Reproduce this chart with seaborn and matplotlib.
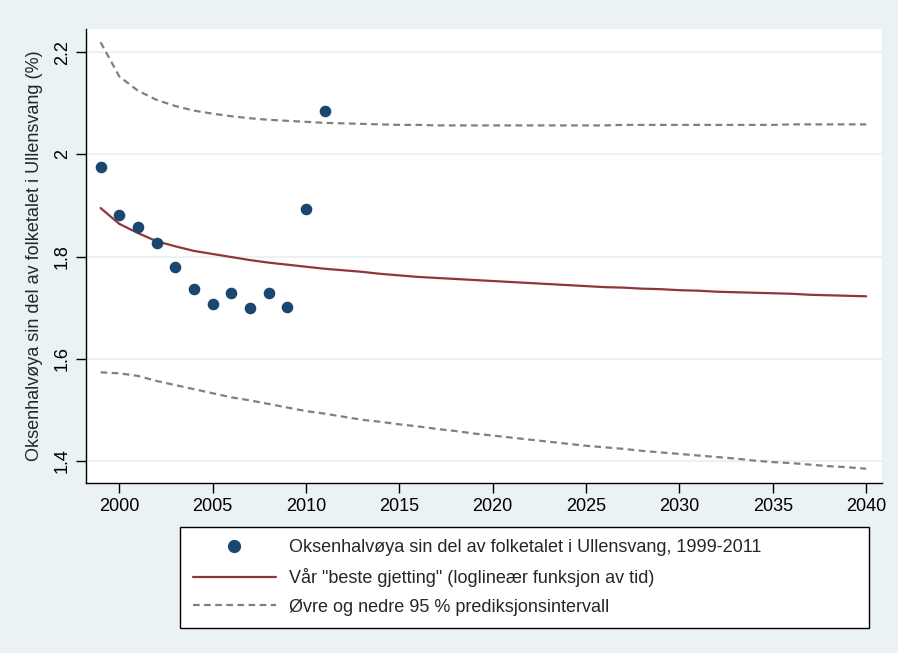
import numpy as np
import pandas as pd
import matplotlib
matplotlib.use("Agg")
import matplotlib.pyplot as plt
import seaborn as sns

# observed share, 1999-2011
obs_years = list(range(1999, 2012))
obs_share = [1.975, 1.881, 1.858, 1.827, 1.780, 1.737, 1.707,
             1.729, 1.699, 1.728, 1.702, 1.894, 2.086]

# fitted line and prediction interval, 1999-2040
fit_years = list(range(1999, 2041))
fit_share = [1.895, 1.864, 1.846, 1.830, 1.820, 1.811, 1.805, 1.799, 1.793, 1.788,
             1.784, 1.780, 1.776, 1.773, 1.770, 1.766, 1.763, 1.760, 1.758, 1.756,
             1.754, 1.752, 1.750, 1.748, 1.746, 1.744, 1.742, 1.740, 1.739, 1.737,
             1.736, 1.734, 1.733, 1.731, 1.730, 1.729, 1.728, 1.727, 1.725, 1.724,
             1.723, 1.722]
upper = [2.220, 2.153, 2.125, 2.107, 2.095, 2.086, 2.080, 2.075, 2.071, 2.068,
         2.066, 2.064, 2.062, 2.061, 2.060, 2.059, 2.058, 2.058, 2.057, 2.057,
         2.057, 2.057, 2.057, 2.057, 2.057, 2.057, 2.057, 2.057, 2.058, 2.058,
         2.058, 2.058, 2.058, 2.058, 2.058, 2.058, 2.058, 2.059, 2.059, 2.059,
         2.059, 2.059]
lower = [1.573, 1.571, 1.566, 1.556, 1.548, 1.540, 1.532, 1.524, 1.518, 1.511,
         1.504, 1.497, 1.492, 1.486, 1.480, 1.476, 1.471, 1.467, 1.462, 1.458,
         1.453, 1.449, 1.445, 1.441, 1.437, 1.433, 1.429, 1.426, 1.423, 1.419,
         1.416, 1.413, 1.410, 1.407, 1.404, 1.400, 1.397, 1.395, 1.392, 1.389,
         1.387, 1.384]

x_ticks = [2000, 2005, 2010, 2015, 2020, 2025, 2030, 2035, 2040]
y_ticks = [1.4, 1.6, 1.8, 2.0, 2.2]
y_ticklabels = ["1.4", "1.6", "1.8", "2", "2.2"]

labels = ["Oksenhalvøya sin del av folketalet i Ullensvang, 1999-2011",
          'Vår "beste gjetting" (loglineær funksjon av tid)',
          "Øvre og nedre 95 % prediksjonsintervall"]

obs = pd.DataFrame({"year": obs_years, "share": obs_share})
fit = pd.DataFrame({"year": fit_years, "fit": fit_share, "upper": upper, "lower": lower})

sns.set_style("white")
plt.rcParams["font.family"] = ["Liberation Sans", "DejaVu Sans"]

bg = "#eaf2f3"
navy = "#1a476f"
maroon = "#90353b"
grey = "#808080"
fs = 13

fig = plt.figure(figsize=(8.98, 6.53), dpi=100, facecolor=bg)
ax = fig.add_axes([0.0958, 0.2603, 0.886, 0.6953])
ax.set_facecolor("white")

for v in y_ticks:
    ax.axhline(v, color=bg, lw=1.5, zorder=0)

sns.lineplot(data=fit, x="year", y="upper", ax=ax, color=grey, lw=1.6,
             linestyle=(0, (3, 2)), zorder=2)
sns.lineplot(data=fit, x="year", y="lower", ax=ax, color=grey, lw=1.6,
             linestyle=(0, (3, 2)), zorder=2)
sns.lineplot(data=fit, x="year", y="fit", ax=ax, color=maroon, lw=1.6, zorder=3)
sns.scatterplot(data=obs, x="year", y="share", ax=ax, color=navy, s=70,
                edgecolor=navy, linewidth=0, zorder=4)

ax.set_xlim(1998.22, 2040.83)
ax.set_ylim(1.356, 2.246)
ax.set_xticks(x_ticks)
ax.set_yticks(y_ticks)
ax.set_yticklabels(y_ticklabels, rotation=90, va="center")
ax.tick_params(axis="both", direction="out", length=7, width=1, colors="black",
               labelsize=fs, pad=4, left=True, bottom=True)
ax.set_xlabel("")
ax.set_ylabel("Oksenhalvøya sin del av folketalet i Ullensvang (%)", fontsize=fs,
              labelpad=8)

for side in ["top", "right"]:
    ax.spines[side].set_visible(False)
for side in ["left", "bottom"]:
    ax.spines[side].set_color("black")
    ax.spines[side].set_linewidth(1)

handles = [
    plt.Line2D([], [], marker="o", color=navy, linestyle="none", markersize=8.5),
    plt.Line2D([], [], color=maroon, lw=1.6),
    plt.Line2D([], [], color=grey, lw=1.6, linestyle=(0, (3, 2))),
]
leg = fig.legend(handles, labels, loc="center", mode="expand",
                 bbox_to_anchor=(0.2004, 0.0383, 0.7673, 0.1547),
                 fontsize=fs, handlelength=4.6, handletextpad=0.72,
                 borderpad=0.7, labelspacing=0.64, fancybox=False,
                 frameon=True, edgecolor="black", facecolor="white",
                 framealpha=1, borderaxespad=0)
leg.get_frame().set_linewidth(1)

fig.savefig("out.png", dpi=100, facecolor=bg)
